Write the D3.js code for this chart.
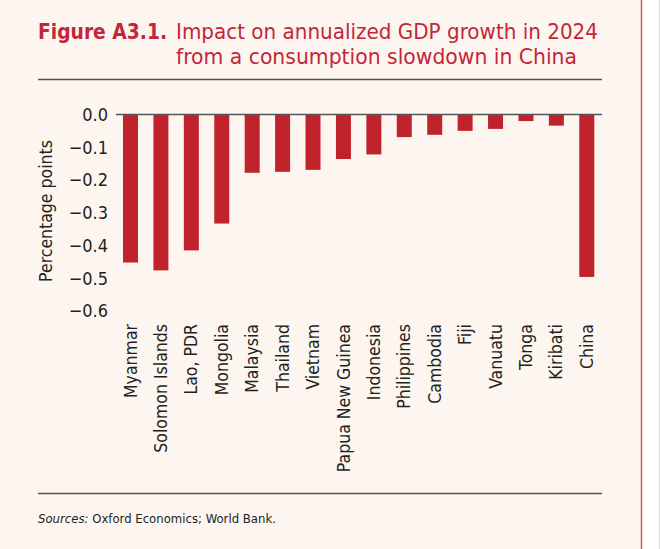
<!DOCTYPE html>
<html><head><meta charset="utf-8">
<script src="https://cdn.jsdelivr.net/npm/d3@7"></script>
<style>
html,body{margin:0;padding:0;background:#fff;}
svg{display:block;}
.cond{font-family:"DejaVu Sans Condensed","Liberation Sans Narrow","Open Sans",sans-serif;}
</style></head>
<body>
<svg id="c" width="660" height="549"></svg>
<script>
const categories = ["Myanmar","Solomon Islands","Lao, PDR","Mongolia","Malaysia","Thailand","Vietnam","Papua New Guinea","Indonesia","Philippines","Cambodia","Fiji","Vanuatu","Tonga","Kiribati","China"];
const values = [-0.452,-0.476,-0.415,-0.333,-0.178,-0.175,-0.169,-0.136,-0.122,-0.069,-0.062,-0.050,-0.044,-0.020,-0.034,-0.496];
const yTicks = [0,-0.1,-0.2,-0.3,-0.4,-0.5,-0.6];
const titleBold = "Figure A3.1.";
const titleLine1 = "Impact on annualized GDP growth in 2024";
const titleLine2 = "from a consumption slowdown in China";
const yTitle = "Percentage points";
const sourceLabel = "Sources:";
const sourceText = " Oxford Economics; World Bank.";

const svg = d3.select("#c");
const red = "#c1232c";
const tred = "#c3263a";
const txt = "#231f20";

svg.append("rect").attr("x",0).attr("y",0).attr("width",641).attr("height",549).attr("fill","#fdf6f0");
svg.append("line").attr("x1",641.5).attr("x2",641.5).attr("y1",0).attr("y2",549).attr("stroke","#c9606a").attr("stroke-width",1.6);
svg.append("line").attr("x1",659.5).attr("x2",659.5).attr("y1",0).attr("y2",549).attr("stroke","#d8d8d8").attr("stroke-width",1);

// title
svg.append("text").attr("class","cond").attr("x",38).attr("y",39).attr("fill",tred).attr("font-size",21.5)
  .attr("font-weight","bold").attr("textLength",129).attr("lengthAdjust","spacingAndGlyphs").text(titleBold);
svg.append("text").attr("class","cond").attr("x",176).attr("y",39).attr("fill",tred).attr("font-size",21.5)
  .attr("textLength",422).attr("lengthAdjust","spacingAndGlyphs").text(titleLine1);
svg.append("text").attr("class","cond").attr("x",176).attr("y",64).attr("fill",tred).attr("font-size",21.5)
  .attr("textLength",401).attr("lengthAdjust","spacingAndGlyphs").text(titleLine2);

svg.append("line").attr("x1",38).attr("x2",602).attr("y1",79.5).attr("y2",79.5).attr("stroke","#555").attr("stroke-width",1.5);
svg.append("line").attr("x1",38).attr("x2",602).attr("y1",493.5).attr("y2",493.5).attr("stroke","#555").attr("stroke-width",1.5);

const x = d3.scaleBand().domain(categories).range([115.3,602]).paddingInner(0.507).paddingOuter(0.2535);
const y = d3.scaleLinear().domain([-0.6,0]).range([311,114.5]);

svg.append("g").selectAll("rect").data(categories).join("rect")
  .attr("x",d=>x(d)).attr("width",x.bandwidth())
  .attr("y",y(0)).attr("height",(d,i)=>y(values[i])-y(0))
  .attr("fill",red);

svg.append("line").attr("x1",116).attr("x2",602).attr("y1",y(0)).attr("y2",y(0)).attr("stroke","#555").attr("stroke-width",1.5);

const fmt = v => (v===0 ? "0.0" : "\u2212" + Math.abs(v).toFixed(1));
const yAxis = d3.axisLeft(y).tickValues(yTicks).tickFormat(fmt).tickSize(0).tickPadding(0);
const ga = svg.append("g").attr("transform","translate(108,0)").call(yAxis);
ga.select(".domain").remove();
ga.selectAll("text").attr("class","cond").attr("font-size",18).attr("fill",txt).attr("font-family",null);

const xAxis = d3.axisBottom(x).tickSize(0).tickPadding(0);
const gx = svg.append("g").attr("transform","translate(0,324)").call(xAxis);
gx.select(".domain").remove();
gx.selectAll("text").attr("class","cond").attr("font-family",null).attr("font-size",17.5).attr("fill",txt)
  .attr("transform","rotate(-90)").attr("text-anchor","end").attr("x",0).attr("y",0).attr("dy","0.35em");

svg.append("text").attr("class","cond").attr("transform","translate(52,211) rotate(-90)").attr("text-anchor","middle")
  .attr("font-size",17.5).attr("fill",txt).text(yTitle);

const st = svg.append("text").attr("class","cond").attr("x",38).attr("y",523).attr("font-size",13).attr("fill",txt);
st.append("tspan").attr("font-style","italic").text(sourceLabel);
st.append("tspan").text(sourceText);
</script>
</body></html>
